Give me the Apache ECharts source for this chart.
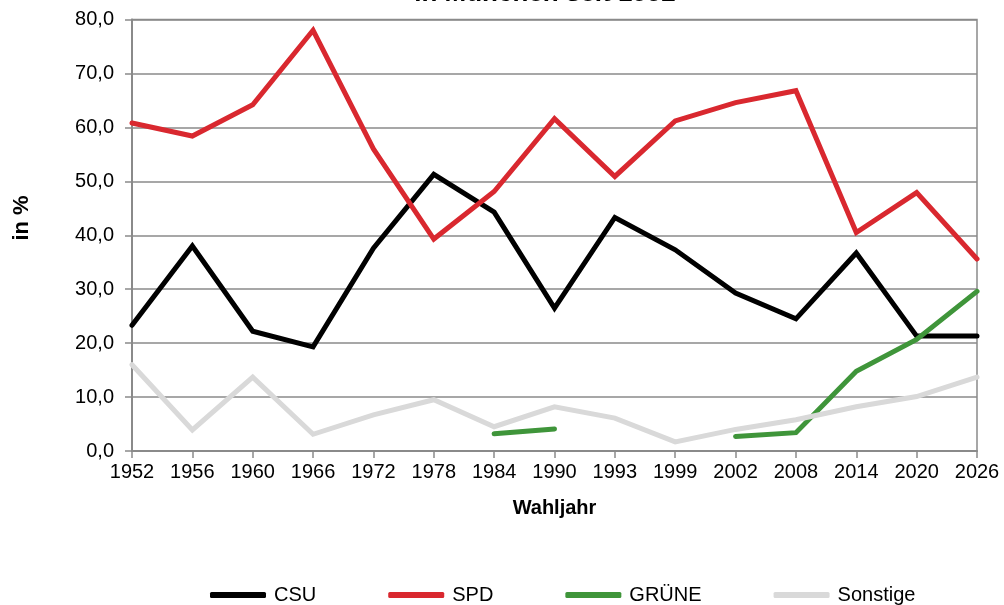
<!DOCTYPE html>
<html>
<head>
<meta charset="utf-8">
<script src="https://cdn.jsdelivr.net/npm/echarts@6/dist/echarts.min.js"></script>
<style>
  html, body { margin: 0; padding: 0; background: #fff; }
  #chart { width: 1004px; height: 605px; }
</style>
</head>
<body>
<div id="chart"></div>
<script>
// Wahljahre (x-Achse)
var years = ['1952', '1956', '1960', '1966', '1972', '1978', '1984', '1990', '1993', '1999', '2002', '2008', '2014', '2020', '2026'];

// Anteile in %
var csu = [23.3, 38.0, 22.2, 19.3, 37.6, 51.3, 44.3, 26.5, 43.3, 37.3, 29.3, 24.5, 36.7, 21.3, 21.3];
var spd = [60.8, 58.4, 64.2, 78.0, 56.0, 39.3, 48.1, 61.6, 50.9, 61.2, 64.6, 66.8, 40.5, 47.9, 35.6];
var gruene = [null, null, null, null, null, null, 3.2, 4.1, null, null, 2.7, 3.4, 14.8, 20.7, 29.6];
var sonstige = [16.0, 3.9, 13.7, 3.1, 6.7, 9.5, 4.5, 8.2, 6.1, 1.7, 4.0, 5.8, 8.2, 10.1, 13.7];

var gridColor = '#8a8a8a';
var font = 'Liberation Sans, Arial, sans-serif';

function line(name, data, color) {
  return {
    name: name,
    type: 'line',
    data: data,
    showSymbol: false,
    connectNulls: false,
    color: color,
    lineStyle: { width: 5, color: color, cap: 'round', join: 'miter' },
    emphasis: { disabled: true }
  };
}

var chart = echarts.init(document.getElementById('chart'));
chart.setOption({
  animation: false,
  textStyle: { fontFamily: font },
  title: {
    text: 'in München seit 1952',
    left: 540,
    top: -24,
    textAlign: 'center',
    textStyle: { fontSize: 26, fontWeight: 'bold', color: '#000', fontFamily: font }
  },
  graphic: [{
    type: 'text',
    x: 22,
    y: 218,
    rotation: Math.PI / 2,
    style: {
      text: 'in %',
      fontSize: 22,
      fontWeight: 'bold',
      fontFamily: font,
      fill: '#000',
      align: 'center',
      verticalAlign: 'middle'
    }
  }],
  legend: {
    data: ['CSU', 'SPD', 'GRÜNE', 'Sonstige'],
    left: 205,
    top: 580,
    icon: 'roundRect',
    itemWidth: 56,
    itemHeight: 6,
    itemGap: 72,
    textStyle: { fontSize: 20, color: '#000', fontFamily: font, padding: [0, 0, 0, 3] }
  },
  grid: {
    left: 132,
    right: 27,
    top: 19.5,
    bottom: 154,
    show: true,
    borderColor: gridColor,
    borderWidth: 1.5
  },
  xAxis: {
    type: 'category',
    data: years,
    boundaryGap: false,
    name: 'Wahljahr',
    nameLocation: 'middle',
    nameGap: 47,
    nameTextStyle: { fontSize: 20, fontWeight: 'bold', color: '#000', fontFamily: font },
    axisLine: { lineStyle: { color: gridColor, width: 2 } },
    axisTick: { show: true, length: 7, inside: false, lineStyle: { color: gridColor, width: 1.5 } },
    axisLabel: { fontSize: 20, color: '#000', margin: 11, fontFamily: font },
    splitLine: { show: false }
  },
  yAxis: {
    type: 'value',
    min: 0,
    max: 80,
    interval: 10,
    axisLine: { show: true, lineStyle: { color: gridColor, width: 2 } },
    axisTick: { show: true, length: 7, lineStyle: { color: gridColor, width: 1.5 } },
    axisLabel: {
      fontSize: 20,
      color: '#000',
      margin: 18,
      fontFamily: font,
      formatter: function (v) { return v.toFixed(1).replace('.', ','); }
    },
    splitLine: { show: true, lineStyle: { color: gridColor, width: 1.5 } }
  },
  series: [
    line('CSU', csu, '#000000'),
    line('SPD', spd, '#d9282f'),
    line('GRÜNE', gruene, '#3f953a'),
    line('Sonstige', sonstige, '#d9d9d9')
  ]
});
</script>
</body>
</html>
